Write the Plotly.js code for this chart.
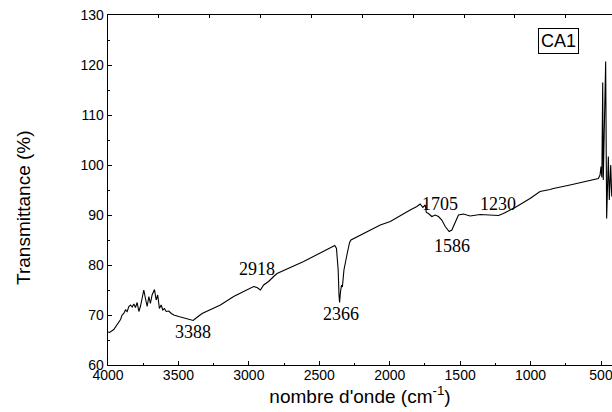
<!DOCTYPE html>
<html>
<head>
<meta charset="utf-8">
<script src="https://cdn.plot.ly/plotly-3.0.1.min.js"></script>
<style>
  html, body { margin: 0; padding: 0; background: #fff; }
  #chart { width: 612px; height: 412px; }
</style>
</head>
<body>
<div id="chart"></div>
<script>
// FTIR spectrum of sample CA1
const wavenumber = [
    4000, 3989, 3959, 3935, 3920, 3911, 3900, 3888, 3876, 3864, 3852, 3840,
    3828, 3817, 3805, 3793, 3781, 3770, 3758, 3746, 3734, 3722, 3710, 3699,
    3687, 3670, 3658, 3647, 3635, 3623, 3611, 3599, 3587, 3569, 3550, 3533,
    3498, 3450, 3408, 3395, 3379, 3332,
    3202, 3108, 3037, 2966, 2942, 2918, 2895, 2860, 2824, 2800, 2611,
    2390, 2378, 2366, 2360, 2356, 2350, 2342, 2336, 2325, 2304, 2285, 2275,
    2138, 2067, 1996, 1920, 1855, 1807, 1784, 1765, 1748, 1740, 1725, 1701,
    1677, 1654, 1630, 1606, 1578, 1559, 1535, 1512, 1477, 1429, 1358, 1287,
    1228, 1193, 1098, 1004, 933, 862, 838, 720, 601, 519, 507,
    500, 494, 488, 484, 467, 460, 448, 441, 431, 424
];

const transmittance = [
    66.6, 66.5, 67.1, 68.0, 68.7, 69.1, 70.0, 70.3, 71.0, 70.7, 71.7, 72.0,
    71.6, 72.2, 71.5, 72.5, 70.7, 71.7, 73.3, 75.0, 73.3, 71.7, 73.7, 72.3,
    74.0, 75.1, 73.0, 74.0, 71.3, 72.0, 71.0, 71.3, 70.7, 70.8, 70.3, 70.0,
    69.7, 69.3, 69.0, 68.9, 69.3, 70.3,
    72.0, 73.7, 74.7, 75.7, 75.5, 75.0, 76.0, 76.7, 77.7, 78.3, 80.7,
    83.9, 83.3, 79.0, 74.0, 72.5, 74.5, 76.0, 75.6, 79.0, 82.0, 84.5, 85.0,
    87.0, 88.0, 88.7, 90.0, 91.0, 91.7, 92.2, 91.5, 92.0, 90.5, 90.3, 89.7,
    90.0, 89.7, 89.0, 87.7, 86.7, 87.0, 88.7, 90.0, 90.2, 89.8, 90.1, 90.0,
    89.9, 90.3, 91.7, 93.3, 94.7, 95.1, 95.3, 96.0, 96.7, 97.3, 98.0,
    99.7, 97.5, 116.5, 97.0, 120.7, 89.3, 101.7, 93.0, 100.0, 93.7
];

// peak labels
const peakLabels = ["3388", "2918", "2366", "1705", "1586", "1230"];
const peakLabelX = [3394, 2942, 2346, 1642, 1559, 1228];
const peakLabelY = [66.7, 79.3, 70.2, 92.3, 83.9, 92.3];

const sampleName = "CA1";

const axisFont = {
    family: "Liberation Sans, Arial, sans-serif",
    size: 14,
    color: "#000"
};

const traces = [
    {
        x: wavenumber,
        y: transmittance,
        mode: "lines",
        line: { color: "#000", width: 1.1 },
        showlegend: false,
        hoverinfo: "skip"
    },
    {
        // empty trace so the top tick axis is drawn
        x: [],
        y: [],
        xaxis: "x2",
        showlegend: false,
        hoverinfo: "skip"
    }
];

const annotations = peakLabels.map((label, i) => ({
    x: peakLabelX[i],
    y: peakLabelY[i],
    xref: "x",
    yref: "y",
    xanchor: "center",
    yanchor: "middle",
    text: label,
    showarrow: false,
    font: {
        family: "Liberation Serif, Times New Roman, serif",
        size: 18,
        color: "#000"
    }
}));

annotations.push({
    x: 0.893,
    y: 0.927,
    xref: "paper",
    yref: "paper",
    xanchor: "center",
    yanchor: "middle",
    text: sampleName,
    showarrow: false,
    bordercolor: "#000",
    borderwidth: 1,
    borderpad: 2,
    font: {
        family: "Liberation Sans, Arial, sans-serif",
        size: 18,
        color: "#000"
    }
});

annotations.push({
    x: -0.1665,
    y: 0.449,
    xref: "paper",
    yref: "paper",
    xanchor: "center",
    yanchor: "middle",
    text: "Transmittance (%)",
    textangle: -90,
    showarrow: false,
    font: {
        family: "Liberation Sans, Arial, sans-serif",
        size: 19,
        color: "#000"
    }
});

const layout = {
    width: 612,
    height: 412,
    margin: { l: 108, r: 0, t: 15, b: 47 },
    paper_bgcolor: "#fff",
    plot_bgcolor: "#fff",
    font: axisFont,

    xaxis: {
        range: [4000, 422],
        tick0: 0,
        dtick: 500,
        ticks: "inside",
        ticklen: 4,
        tickcolor: "#000",
        ticklabeloverflow: "allow",
        ticklabelstandoff: -3,
        minor: {
            dtick: 250,
            ticks: "inside",
            ticklen: 2,
            tickcolor: "#000"
        },
        showline: true,
        linecolor: "#000",
        linewidth: 1.3,
        showgrid: false,
        zeroline: false,
        tickfont: axisFont,
        title: {
            text: "nombre d'onde (cm<sup>-1</sup>)",
            font: {
                family: "Liberation Sans, Arial, sans-serif",
                size: 19,
                color: "#000"
            },
            standoff: 6
        }
    },

    xaxis2: {
        overlaying: "x",
        side: "top",
        anchor: "y",
        range: [0, 9.91],
        dtick: 1,
        ticks: "inside",
        ticklen: 3,
        tickcolor: "#000",
        showticklabels: false,
        showline: true,
        linecolor: "#000",
        linewidth: 1.3,
        showgrid: false,
        zeroline: false
    },

    yaxis: {
        range: [60, 130],
        dtick: 10,
        ticks: "inside",
        ticklen: 4,
        tickcolor: "#000",
        minor: {
            dtick: 5,
            ticks: "inside",
            ticklen: 2,
            tickcolor: "#000"
        },
        showline: true,
        linecolor: "#000",
        linewidth: 1.3,
        showgrid: false,
        zeroline: false,
        tickfont: axisFont
    },

    annotations: annotations
};

Plotly.newPlot("chart", traces, layout, { staticPlot: true, displayModeBar: false });
</script>
</body>
</html>
